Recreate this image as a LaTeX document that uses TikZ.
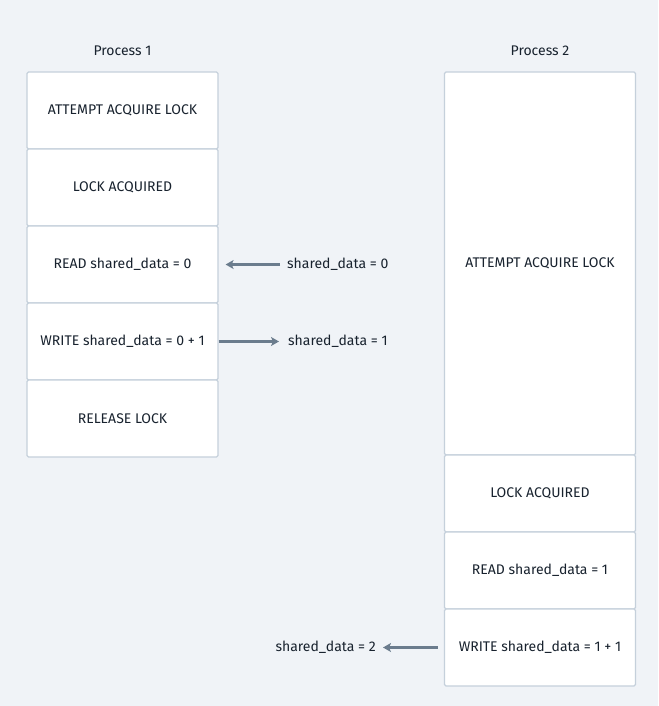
\documentclass[tikz,border=0pt]{standalone}
\usepackage{fontspec}
\setmainfont{Fira Sans}
\usetikzlibrary{arrows.meta}
\usetikzlibrary{positioning}

\definecolor{bgcol}{HTML}{F0F3F7}
\definecolor{edgecol}{HTML}{C5D0DB}
\definecolor{inkcol}{HTML}{18222E}
\definecolor{flowcol}{HTML}{6B7C8D}

\tikzset{
  stepbox/.style={draw=edgecol, line width=1.2pt, fill=white, rounded corners=1.5pt,
    minimum width=191pt, minimum height=77pt, inner sep=0pt, text=inkcol, font=\fontsize{14}{16}\selectfont},
  datalbl/.style={inner xsep=7pt, inner ysep=0pt, text=inkcol, font=\fontsize{14}{16}\selectfont},
  flow/.style={draw=flowcol, line width=2.6pt, -{Stealth[length=8pt, width=9pt, inset=2pt]}}
}

\begin{document}
\begin{tikzpicture}[x=1pt, y=-1pt]
\fill[bgcol] (0,0) rectangle (658,706);
\useasboundingbox (0,0) rectangle (658,706);
% process 1
\node[text=inkcol, font=\fontsize{14}{16}\selectfont] (t1) at (122.5,51) {Process 1};
\foreach \n/\y/\t in {p1a/110.5/ATTEMPT ACQUIRE LOCK, p1b/187.5/LOCK ACQUIRED,
  p1c/264.5/READ shared\_data = 0, p1d/341.5/WRITE shared\_data = 0 + 1, p1e/418.5/RELEASE LOCK} {
 \node[stepbox] (\n) at (122.5,\y) {\t};
}
% process 2
\node[text=inkcol, font=\fontsize{14}{16}\selectfont] (t2) at (540,51) {Process 2};
\node[stepbox, minimum height=383pt] (p2a) at (540,263.5) {ATTEMPT ACQUIRE LOCK};
\foreach \n/\y/\t in {p2b/493.5/LOCK ACQUIRED, p2c/570.5/READ shared\_data = 1,
  p2d/647.5/WRITE shared\_data = 1 + 1} {
 \node[stepbox] (\n) at (540,\y) {\t};
}
% values passed around
\node[datalbl, anchor=west] (l0) at (280,264.5) {shared\_data = 0};
\node[datalbl, anchor=west] (l1) at (281,341.5) {shared\_data = 1};
\node[datalbl, anchor=east] (l2) at (383,647.5) {shared\_data = 2};
\draw[flow, shorten >=7pt] (l0.west) -- (p1c.east);
\draw[flow, shorten >=2pt] (p1d.east) -- (l1.west);
\draw[flow, shorten <=6pt] (p2d.west) -- (l2.east);
\end{tikzpicture}
\end{document}
